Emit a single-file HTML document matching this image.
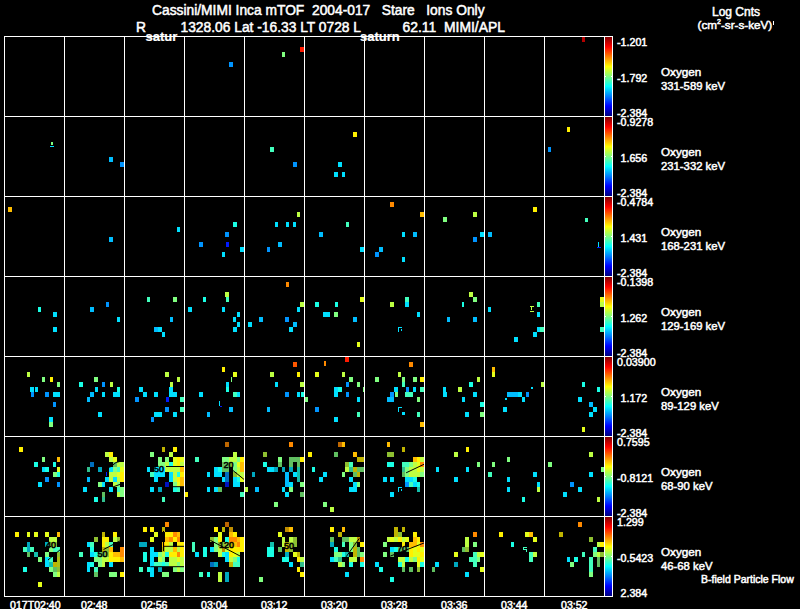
<!DOCTYPE html>
<html><head><meta charset="utf-8"><title>Cassini/MIMI Inca mTOF</title>
<style>
html,body{margin:0;padding:0;background:#000;}
body{width:800px;height:609px;overflow:hidden;}
svg{display:block;}
text{font-family:"Liberation Sans",sans-serif;fill:#fff;stroke:#fff;stroke-width:0.5px;}
</style></head>
<body>
<svg width="800" height="609" viewBox="0 0 800 609" shape-rendering="crispEdges">
<rect width="800" height="609" fill="#000"/>
<defs><linearGradient id="jet" x1="0" y1="0" x2="0" y2="1">
<stop offset="0.0000" stop-color="#800000"/><stop offset="0.0625" stop-color="#bf0000"/><stop offset="0.1250" stop-color="#ff0000"/><stop offset="0.1875" stop-color="#ff4000"/><stop offset="0.2500" stop-color="#ff8000"/><stop offset="0.3125" stop-color="#ffbf00"/><stop offset="0.3750" stop-color="#ffff00"/><stop offset="0.4375" stop-color="#bfff40"/><stop offset="0.5000" stop-color="#80ff80"/><stop offset="0.5625" stop-color="#40ffbf"/><stop offset="0.6250" stop-color="#00ffff"/><stop offset="0.6875" stop-color="#00bfff"/><stop offset="0.7500" stop-color="#0080ff"/><stop offset="0.8125" stop-color="#0040ff"/><stop offset="0.8750" stop-color="#0000ff"/><stop offset="0.9375" stop-color="#0000bf"/><stop offset="1.0000" stop-color="#000080"/>
</linearGradient></defs>
<g id="data">
<rect x="229.20" y="62.00" width="3.75" height="5.00" fill="#0094ff"/>
<rect x="281.70" y="52.00" width="3.75" height="5.00" fill="#80ff80"/><rect x="300.45" y="47.00" width="3.75" height="5.00" fill="#ff1a00"/>
<rect x="581.70" y="37.00" width="3.75" height="5.00" fill="#b30000"/>
<rect x="109.20" y="157.00" width="3.75" height="5.00" fill="#00bdff"/><rect x="120.45" y="162.00" width="3.75" height="5.00" fill="#0094ff"/>
<rect x="270.45" y="147.00" width="3.75" height="5.00" fill="#42ffbd"/><rect x="292.95" y="162.00" width="3.75" height="5.00" fill="#0094ff"/>
<rect x="352.95" y="132.00" width="3.75" height="5.00" fill="#fff000"/><rect x="337.95" y="162.00" width="3.75" height="5.00" fill="#00e0ff"/><rect x="334.20" y="172.00" width="3.75" height="5.00" fill="#00e0ff"/><rect x="341.70" y="172.00" width="3.75" height="5.00" fill="#00e0ff"/>
<rect x="566.70" y="127.00" width="3.75" height="5.00" fill="#fff000"/><rect x="548.25" y="147.40" width="3.05" height="4.10" fill="#0094ff"/>
<rect x="7.95" y="207.00" width="3.75" height="5.00" fill="#ffbd00"/>
<rect x="109.20" y="237.00" width="3.75" height="5.00" fill="#00bdff"/>
<rect x="176.70" y="227.00" width="3.75" height="5.00" fill="#00e0ff"/>
<rect x="232.95" y="222.00" width="3.75" height="5.00" fill="#1affe5"/><rect x="225.45" y="232.00" width="3.75" height="5.00" fill="#0094ff"/><rect x="199.20" y="242.00" width="3.75" height="5.00" fill="#0094ff"/><rect x="225.75" y="242.40" width="3.05" height="4.10" fill="#001aff"/><rect x="240.45" y="247.00" width="3.75" height="5.00" fill="#00e0ff"/><rect x="222.00" y="252.40" width="3.05" height="4.10" fill="#00e0ff"/>
<rect x="296.70" y="212.00" width="3.75" height="5.00" fill="#bdff42"/><rect x="274.50" y="222.40" width="3.05" height="4.10" fill="#00e0ff"/><rect x="285.75" y="222.40" width="3.05" height="4.10" fill="#00e0ff"/><rect x="293.25" y="222.40" width="3.05" height="4.10" fill="#00e0ff"/><rect x="277.95" y="242.00" width="3.75" height="5.00" fill="#00bdff"/><rect x="267.00" y="247.40" width="3.05" height="4.10" fill="#0094ff"/>
<rect x="345.75" y="222.40" width="3.05" height="4.10" fill="#42ffbd"/><rect x="319.20" y="232.00" width="3.75" height="5.00" fill="#00bdff"/><rect x="360.45" y="247.00" width="3.75" height="5.00" fill="#00e0ff"/>
<rect x="390.45" y="202.00" width="3.75" height="5.00" fill="#ff8a00"/><rect x="420.45" y="212.00" width="3.75" height="5.00" fill="#ffbd00"/><rect x="402.00" y="232.40" width="3.05" height="4.10" fill="#00e0ff"/><rect x="412.95" y="232.00" width="3.75" height="5.00" fill="#00bdff"/><rect x="379.20" y="247.00" width="3.75" height="5.00" fill="#00bdff"/><rect x="375.45" y="252.00" width="3.75" height="5.00" fill="#0094ff"/><rect x="401.70" y="257.00" width="3.75" height="5.00" fill="#00e0ff"/>
<rect x="442.95" y="217.00" width="3.75" height="5.00" fill="#80ff80"/><rect x="472.95" y="212.00" width="3.75" height="5.00" fill="#bdff42"/><rect x="480.45" y="232.00" width="3.75" height="5.00" fill="#00e0ff"/><rect x="472.95" y="237.00" width="3.75" height="5.00" fill="#0094ff"/>
<rect x="487.95" y="232.00" width="3.75" height="5.00" fill="#00bdff"/><rect x="532.95" y="207.00" width="3.75" height="5.00" fill="#fff000"/>
<rect x="38.25" y="307.40" width="3.05" height="4.10" fill="#1affe5"/><rect x="52.95" y="312.00" width="3.75" height="5.00" fill="#00e0ff"/><rect x="52.95" y="327.00" width="3.75" height="5.00" fill="#00e0ff"/>
<rect x="90.45" y="307.00" width="3.75" height="5.00" fill="#00bdff"/><rect x="105.75" y="302.40" width="3.05" height="4.10" fill="#0094ff"/><rect x="116.70" y="317.00" width="3.75" height="5.00" fill="#00e0ff"/>
<rect x="146.70" y="297.00" width="3.75" height="5.00" fill="#42ffbd"/><rect x="172.95" y="297.00" width="3.75" height="5.00" fill="#80ff80"/><rect x="169.50" y="317.40" width="3.05" height="4.10" fill="#00bdff"/><rect x="154.20" y="327.00" width="3.75" height="5.00" fill="#00bdff"/><rect x="157.95" y="327.00" width="3.75" height="5.00" fill="#00e0ff"/><rect x="161.70" y="332.00" width="3.75" height="5.00" fill="#00e0ff"/>
<rect x="203.25" y="297.40" width="3.05" height="4.10" fill="#1affe5"/><rect x="225.45" y="292.00" width="3.75" height="5.00" fill="#bdff42"/><rect x="225.75" y="297.40" width="3.05" height="4.10" fill="#42ffbd"/><rect x="187.95" y="307.00" width="3.75" height="5.00" fill="#00e0ff"/><rect x="221.70" y="307.00" width="3.75" height="5.00" fill="#00e0ff"/><rect x="237.00" y="312.40" width="3.05" height="4.10" fill="#00e0ff"/><rect x="233.25" y="317.40" width="3.05" height="4.10" fill="#00e0ff"/><rect x="236.70" y="322.00" width="3.75" height="5.00" fill="#00e0ff"/><rect x="232.95" y="327.00" width="3.75" height="5.00" fill="#00e0ff"/>
<rect x="285.75" y="282.40" width="3.05" height="4.10" fill="#ff8a00"/><rect x="300.45" y="302.00" width="3.75" height="5.00" fill="#bdff42"/><rect x="297.00" y="307.40" width="3.05" height="4.10" fill="#00e0ff"/><rect x="259.20" y="317.00" width="3.75" height="5.00" fill="#00bdff"/><rect x="285.45" y="317.00" width="3.75" height="5.00" fill="#0094ff"/><rect x="247.95" y="322.00" width="3.75" height="5.00" fill="#00e0ff"/><rect x="292.95" y="322.00" width="3.75" height="5.00" fill="#00bdff"/><rect x="289.20" y="327.00" width="3.75" height="5.00" fill="#00e0ff"/>
<rect x="315.45" y="302.00" width="3.75" height="5.00" fill="#1affe5"/><rect x="334.50" y="302.40" width="3.05" height="4.10" fill="#1affe5"/><rect x="360.45" y="297.00" width="3.75" height="5.00" fill="#e5ff1a"/><rect x="322.95" y="312.00" width="3.75" height="5.00" fill="#00e0ff"/><rect x="326.70" y="312.00" width="3.75" height="5.00" fill="#00e0ff"/><rect x="334.20" y="312.00" width="3.75" height="5.00" fill="#80ff80"/><rect x="352.95" y="317.00" width="3.75" height="5.00" fill="#00bdff"/><rect x="356.70" y="342.00" width="3.75" height="5.00" fill="#e5ff1a"/>
<rect x="390.45" y="302.00" width="3.75" height="5.00" fill="#bdff42"/><rect x="405.45" y="297.00" width="3.75" height="5.00" fill="#42ffbd"/><rect x="405.45" y="302.00" width="3.75" height="5.00" fill="#00e0ff"/><rect x="416.70" y="312.00" width="3.75" height="5.00" fill="#00e0ff"/>
<rect x="469.20" y="292.00" width="3.75" height="5.00" fill="#bdff42"/><rect x="472.95" y="297.00" width="3.75" height="5.00" fill="#80ff80"/><rect x="446.70" y="317.00" width="3.75" height="5.00" fill="#00bdff"/><rect x="472.95" y="317.00" width="3.75" height="5.00" fill="#00bdff"/>
<rect x="488.25" y="307.40" width="3.05" height="4.10" fill="#00e0ff"/><rect x="536.70" y="302.00" width="3.75" height="5.00" fill="#42ffbd"/><rect x="536.70" y="312.00" width="3.75" height="5.00" fill="#00e0ff"/><rect x="536.70" y="327.00" width="3.75" height="5.00" fill="#00e0ff"/><rect x="540.45" y="327.00" width="3.75" height="5.00" fill="#42ffbd"/><rect x="532.95" y="332.00" width="3.75" height="5.00" fill="#00e0ff"/><rect x="514.20" y="337.00" width="3.75" height="5.00" fill="#00e0ff"/>
<rect x="600.45" y="297.00" width="3.75" height="5.00" fill="#e5ff1a"/><rect x="600.45" y="302.00" width="3.75" height="5.00" fill="#bdff42"/><rect x="600.45" y="327.00" width="3.75" height="5.00" fill="#42ffbd"/>
<rect x="27.00" y="372.40" width="3.05" height="4.10" fill="#bdff42"/><rect x="42.00" y="377.40" width="3.05" height="4.10" fill="#80ff80"/><rect x="49.50" y="377.40" width="3.05" height="4.10" fill="#fff000"/><rect x="56.70" y="382.00" width="3.75" height="5.00" fill="#80ff80"/><rect x="30.45" y="387.00" width="3.75" height="5.00" fill="#00e0ff"/><rect x="34.50" y="387.40" width="3.05" height="4.10" fill="#00e0ff"/><rect x="30.75" y="392.40" width="3.05" height="4.10" fill="#0094ff"/><rect x="45.45" y="392.00" width="3.75" height="5.00" fill="#0094ff"/><rect x="52.95" y="392.00" width="3.75" height="5.00" fill="#00e0ff"/><rect x="56.70" y="392.00" width="3.75" height="5.00" fill="#00e0ff"/><rect x="53.25" y="402.40" width="3.05" height="4.10" fill="#0094ff"/><rect x="49.20" y="417.00" width="3.75" height="5.00" fill="#00e0ff"/><rect x="49.20" y="422.00" width="3.75" height="5.00" fill="#80ff80"/>
<rect x="94.20" y="377.00" width="3.75" height="5.00" fill="#80ff80"/><rect x="79.20" y="382.00" width="3.75" height="5.00" fill="#1affe5"/><rect x="102.00" y="382.40" width="3.05" height="4.10" fill="#0094ff"/><rect x="109.50" y="382.40" width="3.05" height="4.10" fill="#bdff42"/><rect x="116.70" y="387.00" width="3.75" height="5.00" fill="#1affe5"/><rect x="94.50" y="387.40" width="3.05" height="4.10" fill="#00e0ff"/><rect x="90.45" y="392.00" width="3.75" height="5.00" fill="#00bdff"/><rect x="101.70" y="392.00" width="3.75" height="5.00" fill="#00e0ff"/><rect x="112.95" y="392.00" width="3.75" height="5.00" fill="#00e0ff"/><rect x="116.70" y="392.00" width="3.75" height="5.00" fill="#00e0ff"/><rect x="86.70" y="397.00" width="3.75" height="5.00" fill="#00bdff"/><rect x="97.95" y="412.00" width="3.75" height="5.00" fill="#00e0ff"/>
<rect x="165.45" y="372.00" width="3.75" height="5.00" fill="#bdff42"/><rect x="176.70" y="377.00" width="3.75" height="5.00" fill="#bdff42"/><rect x="169.50" y="382.40" width="3.05" height="4.10" fill="#bdff42"/><rect x="169.20" y="387.00" width="3.75" height="5.00" fill="#00e0ff"/><rect x="139.20" y="387.00" width="3.75" height="5.00" fill="#00e0ff"/><rect x="142.95" y="392.00" width="3.75" height="5.00" fill="#00e0ff"/><rect x="154.20" y="392.00" width="3.75" height="5.00" fill="#00e0ff"/><rect x="169.20" y="392.00" width="3.75" height="5.00" fill="#00e0ff"/><rect x="172.95" y="392.00" width="3.75" height="5.00" fill="#00e0ff"/><rect x="135.45" y="397.00" width="3.75" height="5.00" fill="#0094ff"/><rect x="165.75" y="397.40" width="3.05" height="4.10" fill="#001aff"/><rect x="180.45" y="397.00" width="3.75" height="5.00" fill="#42ffbd"/><rect x="165.45" y="407.00" width="3.75" height="5.00" fill="#0094ff"/><rect x="180.45" y="407.00" width="3.75" height="5.00" fill="#42ffbd"/><rect x="154.20" y="412.00" width="3.75" height="5.00" fill="#00e0ff"/><rect x="157.95" y="412.00" width="3.75" height="5.00" fill="#00e0ff"/><rect x="172.95" y="412.00" width="3.75" height="5.00" fill="#00e0ff"/><rect x="150.75" y="417.40" width="3.05" height="4.10" fill="#0094ff"/>
<rect x="221.70" y="367.00" width="3.75" height="5.00" fill="#fff000"/><rect x="232.95" y="372.00" width="3.75" height="5.00" fill="#e5ff1a"/><rect x="225.75" y="382.40" width="3.05" height="4.10" fill="#00e0ff"/><rect x="225.75" y="387.40" width="3.05" height="4.10" fill="#1affe5"/><rect x="199.20" y="392.00" width="3.75" height="5.00" fill="#00e0ff"/><rect x="232.95" y="392.00" width="3.75" height="5.00" fill="#42ffbd"/><rect x="236.70" y="392.00" width="3.75" height="5.00" fill="#00e0ff"/><rect x="229.20" y="407.00" width="3.75" height="5.00" fill="#00bdff"/><rect x="206.70" y="412.00" width="3.75" height="5.00" fill="#00bdff"/>
<rect x="292.95" y="362.00" width="3.75" height="5.00" fill="#ff5700"/><rect x="270.45" y="372.00" width="3.75" height="5.00" fill="#bdff42"/><rect x="296.70" y="372.00" width="3.75" height="5.00" fill="#fff000"/><rect x="274.50" y="382.40" width="3.05" height="4.10" fill="#00e0ff"/><rect x="300.45" y="382.00" width="3.75" height="5.00" fill="#bdff42"/><rect x="285.45" y="392.00" width="3.75" height="5.00" fill="#0094ff"/><rect x="297.00" y="392.40" width="3.05" height="4.10" fill="#00e0ff"/><rect x="300.75" y="392.40" width="3.05" height="4.10" fill="#1affe5"/><rect x="267.00" y="407.40" width="3.05" height="4.10" fill="#00bdff"/>
<rect x="345.45" y="357.00" width="3.75" height="5.00" fill="#ff1a00"/><rect x="315.45" y="372.00" width="3.75" height="5.00" fill="#e5ff1a"/><rect x="341.70" y="372.00" width="3.75" height="5.00" fill="#bdff42"/><rect x="349.20" y="377.00" width="3.75" height="5.00" fill="#80ff80"/><rect x="345.75" y="382.40" width="3.05" height="4.10" fill="#0094ff"/><rect x="356.70" y="382.00" width="3.75" height="5.00" fill="#80ff80"/><rect x="334.20" y="387.00" width="3.75" height="5.00" fill="#00e0ff"/><rect x="337.95" y="387.00" width="3.75" height="5.00" fill="#1affe5"/><rect x="334.20" y="392.00" width="3.75" height="5.00" fill="#00e0ff"/><rect x="345.75" y="392.40" width="3.05" height="4.10" fill="#0094ff"/><rect x="304.20" y="397.00" width="3.75" height="5.00" fill="#80ff80"/><rect x="356.70" y="397.00" width="3.75" height="5.00" fill="#00e0ff"/><rect x="315.45" y="407.00" width="3.75" height="5.00" fill="#0094ff"/><rect x="357.00" y="412.40" width="3.05" height="4.10" fill="#42ffbd"/><rect x="334.20" y="417.00" width="3.75" height="5.00" fill="#00e0ff"/>
<rect x="409.20" y="362.00" width="3.75" height="5.00" fill="#ff8a00"/><rect x="398.25" y="372.40" width="3.05" height="4.10" fill="#bdff42"/><rect x="375.45" y="377.00" width="3.75" height="5.00" fill="#80ff80"/><rect x="401.70" y="377.00" width="3.75" height="5.00" fill="#80ff80"/><rect x="401.70" y="382.00" width="3.75" height="5.00" fill="#42ffbd"/><rect x="412.95" y="377.00" width="3.75" height="5.00" fill="#80ff80"/><rect x="420.45" y="377.00" width="3.75" height="5.00" fill="#fff000"/><rect x="394.20" y="387.00" width="3.75" height="5.00" fill="#00e0ff"/><rect x="405.75" y="387.40" width="3.05" height="4.10" fill="#0094ff"/><rect x="413.25" y="387.40" width="3.05" height="4.10" fill="#00e0ff"/><rect x="420.45" y="387.00" width="3.75" height="5.00" fill="#42ffbd"/><rect x="390.45" y="392.00" width="3.75" height="5.00" fill="#0094ff"/><rect x="394.50" y="392.40" width="3.05" height="4.10" fill="#80ff80"/><rect x="405.45" y="392.00" width="3.75" height="5.00" fill="#42ffbd"/><rect x="409.20" y="392.00" width="3.75" height="5.00" fill="#42ffbd"/><rect x="386.70" y="397.00" width="3.75" height="5.00" fill="#00bdff"/><rect x="390.45" y="397.00" width="3.75" height="5.00" fill="#00bdff"/><rect x="416.70" y="397.00" width="3.75" height="5.00" fill="#80ff80"/><rect x="416.70" y="412.00" width="3.75" height="5.00" fill="#42ffbd"/><rect x="420.45" y="422.00" width="3.75" height="5.00" fill="#ffbd00"/>
<rect x="476.70" y="377.00" width="3.75" height="5.00" fill="#bdff42"/><rect x="469.20" y="382.00" width="3.75" height="5.00" fill="#1affe5"/><rect x="443.25" y="387.40" width="3.05" height="4.10" fill="#00e0ff"/><rect x="442.95" y="392.00" width="3.75" height="5.00" fill="#00e0ff"/><rect x="457.95" y="387.00" width="3.75" height="5.00" fill="#bdff42"/><rect x="472.95" y="392.00" width="3.75" height="5.00" fill="#00e0ff"/><rect x="461.70" y="397.00" width="3.75" height="5.00" fill="#00e0ff"/><rect x="480.45" y="402.00" width="3.75" height="5.00" fill="#1affe5"/><rect x="465.45" y="412.00" width="3.75" height="5.00" fill="#00e0ff"/><rect x="480.45" y="412.00" width="3.75" height="5.00" fill="#80ff80"/>
<rect x="491.70" y="367.00" width="3.75" height="5.00" fill="#ffbd00"/><rect x="491.70" y="372.00" width="3.75" height="5.00" fill="#e5ff1a"/><rect x="540.75" y="382.40" width="3.05" height="4.10" fill="#bdff42"/><rect x="506.70" y="392.00" width="3.75" height="5.00" fill="#00bdff"/><rect x="510.45" y="392.00" width="3.75" height="5.00" fill="#00bdff"/><rect x="514.20" y="392.00" width="3.75" height="5.00" fill="#00bdff"/><rect x="517.95" y="392.00" width="3.75" height="5.00" fill="#00e0ff"/><rect x="525.75" y="392.40" width="3.05" height="4.10" fill="#0094ff"/><rect x="521.70" y="397.00" width="3.75" height="5.00" fill="#00e0ff"/><rect x="502.95" y="407.00" width="3.75" height="5.00" fill="#00e0ff"/>
<rect x="582.00" y="382.40" width="3.05" height="4.10" fill="#1affe5"/><rect x="596.70" y="387.00" width="3.75" height="5.00" fill="#1affe5"/><rect x="577.95" y="397.00" width="3.75" height="5.00" fill="#00e0ff"/><rect x="589.20" y="402.00" width="3.75" height="5.00" fill="#00bdff"/><rect x="592.95" y="407.00" width="3.75" height="5.00" fill="#00e0ff"/><rect x="589.20" y="412.00" width="3.75" height="5.00" fill="#00e0ff"/><rect x="581.70" y="427.00" width="3.75" height="5.00" fill="#e5ff1a"/>
<rect x="19.20" y="447.00" width="3.75" height="5.00" fill="#fff000"/><rect x="42.00" y="457.40" width="3.05" height="4.10" fill="#80ff80"/><rect x="56.70" y="457.00" width="3.75" height="5.00" fill="#ffbd00"/><rect x="34.20" y="462.00" width="3.75" height="5.00" fill="#1affe5"/><rect x="53.25" y="462.40" width="3.05" height="4.10" fill="#1affe5"/><rect x="41.70" y="467.00" width="3.75" height="5.00" fill="#00e0ff"/><rect x="45.45" y="467.00" width="3.75" height="5.00" fill="#1affe5"/><rect x="56.70" y="467.00" width="3.75" height="5.00" fill="#e5ff1a"/><rect x="52.95" y="472.00" width="3.75" height="5.00" fill="#80ff80"/><rect x="57.00" y="472.40" width="3.05" height="4.10" fill="#1affe5"/><rect x="45.45" y="477.00" width="3.75" height="5.00" fill="#0094ff"/><rect x="37.95" y="482.00" width="3.75" height="5.00" fill="#00e0ff"/><rect x="57.00" y="482.40" width="3.05" height="4.10" fill="#0094ff"/>
<rect x="105.45" y="452.00" width="3.75" height="5.00" fill="#bdff42"/><rect x="109.20" y="452.00" width="3.75" height="5.00" fill="#fff000"/><rect x="109.20" y="457.00" width="3.75" height="5.00" fill="#bdff42"/><rect x="112.95" y="457.00" width="3.75" height="5.00" fill="#e5ff1a"/><rect x="90.45" y="462.00" width="3.75" height="5.00" fill="#0094ff" fill-opacity="0.75"/><rect x="112.95" y="462.00" width="3.75" height="5.00" fill="#80ff80" fill-opacity="0.75"/><rect x="116.70" y="462.00" width="7.50" height="5.00" fill="#bdff42"/><rect x="86.70" y="467.00" width="3.75" height="5.00" fill="#42ffbd" fill-opacity="0.75"/><rect x="97.95" y="467.00" width="3.75" height="5.00" fill="#00e0ff" fill-opacity="0.75"/><rect x="109.20" y="467.00" width="3.75" height="5.00" fill="#00e0ff"/><rect x="112.95" y="467.00" width="3.75" height="5.00" fill="#80ff80"/><rect x="116.70" y="467.00" width="3.75" height="5.00" fill="#42ffbd"/><rect x="120.45" y="467.00" width="3.75" height="5.00" fill="#e5ff1a"/><rect x="109.20" y="472.00" width="7.50" height="5.00" fill="#bdff42"/><rect x="116.70" y="472.00" width="3.75" height="5.00" fill="#e5ff1a"/><rect x="120.45" y="472.00" width="3.75" height="5.00" fill="#fff000"/><rect x="86.70" y="477.00" width="3.75" height="5.00" fill="#00bdff"/><rect x="105.45" y="477.00" width="3.75" height="5.00" fill="#00e0ff"/><rect x="109.20" y="477.00" width="3.75" height="5.00" fill="#bdff42"/><rect x="112.95" y="477.00" width="3.75" height="5.00" fill="#00e0ff"/><rect x="116.70" y="477.00" width="3.75" height="5.00" fill="#bdff42"/><rect x="120.45" y="477.00" width="3.75" height="5.00" fill="#fff000"/><rect x="97.95" y="482.00" width="3.75" height="5.00" fill="#80ff80"/><rect x="101.70" y="482.00" width="3.75" height="5.00" fill="#00e0ff"/><rect x="112.95" y="482.00" width="3.75" height="5.00" fill="#bdff42"/><rect x="116.70" y="482.00" width="3.75" height="5.00" fill="#80ff80"/><rect x="82.95" y="487.00" width="3.75" height="5.00" fill="#00e0ff"/><rect x="109.20" y="487.00" width="3.75" height="5.00" fill="#00e0ff"/><rect x="116.70" y="487.00" width="3.75" height="5.00" fill="#42ffbd"/><rect x="120.45" y="487.00" width="3.75" height="5.00" fill="#80ff80"/><rect x="101.70" y="492.00" width="3.75" height="5.00" fill="#80ff80" fill-opacity="0.75"/><rect x="116.70" y="492.00" width="3.75" height="5.00" fill="#bdff42"/><rect x="120.45" y="492.00" width="3.75" height="5.00" fill="#80ff80"/><rect x="94.20" y="497.00" width="3.75" height="5.00" fill="#1affe5"/><rect x="101.70" y="497.00" width="3.75" height="5.00" fill="#42ffbd" fill-opacity="0.75"/>
<rect x="161.70" y="447.00" width="3.75" height="5.00" fill="#fff000" fill-opacity="0.75"/><rect x="172.95" y="447.00" width="3.75" height="5.00" fill="#fff000"/><rect x="150.45" y="452.00" width="3.75" height="5.00" fill="#80ff80"/><rect x="169.20" y="452.00" width="3.75" height="5.00" fill="#bdff42"/><rect x="157.95" y="457.00" width="3.75" height="5.00" fill="#80ff80"/><rect x="165.45" y="457.00" width="3.75" height="5.00" fill="#80ff80"/><rect x="172.95" y="457.00" width="3.75" height="5.00" fill="#e5ff1a"/><rect x="176.70" y="457.00" width="3.75" height="5.00" fill="#fff000"/><rect x="180.45" y="457.00" width="3.75" height="5.00" fill="#e5ff1a"/><rect x="157.95" y="462.00" width="7.50" height="5.00" fill="#80ff80"/><rect x="165.45" y="462.00" width="3.75" height="5.00" fill="#bdff42"/><rect x="169.20" y="462.00" width="3.75" height="5.00" fill="#1affe5"/><rect x="172.95" y="462.00" width="3.75" height="5.00" fill="#e5ff1a"/><rect x="176.70" y="462.00" width="3.75" height="5.00" fill="#fff000"/><rect x="180.45" y="462.00" width="3.75" height="5.00" fill="#bdff42"/><rect x="146.70" y="467.00" width="3.75" height="5.00" fill="#00e0ff"/><rect x="154.20" y="467.00" width="11.25" height="5.00" fill="#00e0ff"/><rect x="165.45" y="467.00" width="15.00" height="5.00" fill="#bdff42"/><rect x="180.45" y="467.00" width="3.75" height="5.00" fill="#ffbd00"/><rect x="150.45" y="472.00" width="3.75" height="5.00" fill="#42ffbd"/><rect x="154.20" y="472.00" width="11.25" height="5.00" fill="#00e0ff"/><rect x="169.20" y="472.00" width="3.75" height="5.00" fill="#00e0ff"/><rect x="172.95" y="472.00" width="3.75" height="5.00" fill="#bdff42"/><rect x="176.70" y="472.00" width="3.75" height="5.00" fill="#1affe5"/><rect x="180.45" y="472.00" width="3.75" height="5.00" fill="#fff000"/><rect x="154.20" y="477.00" width="3.75" height="5.00" fill="#00e0ff"/><rect x="169.20" y="477.00" width="3.75" height="5.00" fill="#00e0ff"/><rect x="172.95" y="477.00" width="3.75" height="5.00" fill="#bdff42"/><rect x="176.70" y="477.00" width="3.75" height="5.00" fill="#fff000"/><rect x="180.45" y="477.00" width="3.75" height="5.00" fill="#ffbd00"/><rect x="165.45" y="482.00" width="3.75" height="5.00" fill="#001aff" fill-opacity="0.75"/><rect x="172.95" y="482.00" width="3.75" height="5.00" fill="#80ff80"/><rect x="176.70" y="482.00" width="3.75" height="5.00" fill="#e5ff1a"/><rect x="180.45" y="482.00" width="3.75" height="5.00" fill="#ffbd00"/><rect x="150.45" y="487.00" width="3.75" height="5.00" fill="#00e0ff"/><rect x="157.95" y="487.00" width="3.75" height="5.00" fill="#00e0ff" fill-opacity="0.75"/><rect x="172.95" y="487.00" width="3.75" height="5.00" fill="#1affe5"/><rect x="176.70" y="487.00" width="3.75" height="5.00" fill="#42ffbd"/><rect x="161.70" y="497.00" width="3.75" height="5.00" fill="#42ffbd"/>
<rect x="225.45" y="442.00" width="3.75" height="5.00" fill="#ff8a00" fill-opacity="0.75"/><rect x="232.95" y="452.00" width="3.75" height="5.00" fill="#bdff42"/><rect x="195.45" y="457.00" width="3.75" height="5.00" fill="#42ffbd"/><rect x="221.70" y="457.00" width="7.50" height="5.00" fill="#80ff80"/><rect x="229.20" y="457.00" width="7.50" height="5.00" fill="#bdff42"/><rect x="236.70" y="457.00" width="3.75" height="5.00" fill="#80ff80"/><rect x="240.45" y="457.00" width="3.75" height="5.00" fill="#fff000"/><rect x="221.70" y="462.00" width="3.75" height="5.00" fill="#80ff80" fill-opacity="0.75"/><rect x="225.45" y="462.00" width="3.75" height="5.00" fill="#80ff80" fill-opacity="0.75"/><rect x="229.20" y="462.00" width="3.75" height="5.00" fill="#bdff42" fill-opacity="0.75"/><rect x="232.95" y="462.00" width="3.75" height="5.00" fill="#80ff80"/><rect x="236.70" y="462.00" width="3.75" height="5.00" fill="#e5ff1a"/><rect x="240.45" y="462.00" width="3.75" height="5.00" fill="#ffbd00"/><rect x="214.20" y="467.00" width="3.75" height="5.00" fill="#00e0ff"/><rect x="217.95" y="467.00" width="3.75" height="5.00" fill="#1affe5"/><rect x="221.70" y="467.00" width="3.75" height="5.00" fill="#80ff80" fill-opacity="0.75"/><rect x="225.45" y="467.00" width="3.75" height="5.00" fill="#80ff80" fill-opacity="0.75"/><rect x="232.95" y="467.00" width="3.75" height="5.00" fill="#80ff80"/><rect x="236.70" y="467.00" width="3.75" height="5.00" fill="#bdff42"/><rect x="240.45" y="467.00" width="3.75" height="5.00" fill="#ffbd00"/><rect x="206.70" y="472.00" width="3.75" height="5.00" fill="#00e0ff"/><rect x="214.20" y="472.00" width="7.50" height="5.00" fill="#00e0ff"/><rect x="225.45" y="472.00" width="3.75" height="5.00" fill="#0094ff" fill-opacity="0.75"/><rect x="232.95" y="472.00" width="3.75" height="5.00" fill="#bdff42" fill-opacity="0.75"/><rect x="236.70" y="472.00" width="7.50" height="5.00" fill="#bdff42"/><rect x="221.70" y="477.00" width="3.75" height="5.00" fill="#00e0ff"/><rect x="225.45" y="477.00" width="3.75" height="5.00" fill="#0094ff" fill-opacity="0.75"/><rect x="232.95" y="477.00" width="3.75" height="5.00" fill="#00e0ff"/><rect x="236.70" y="477.00" width="3.75" height="5.00" fill="#1affe5"/><rect x="240.45" y="477.00" width="3.75" height="5.00" fill="#e5ff1a"/><rect x="225.45" y="482.00" width="3.75" height="5.00" fill="#001aff" fill-opacity="0.75"/><rect x="232.95" y="482.00" width="7.50" height="5.00" fill="#00e0ff"/><rect x="206.70" y="487.00" width="3.75" height="5.00" fill="#00e0ff"/><rect x="214.20" y="487.00" width="3.75" height="5.00" fill="#00e0ff"/><rect x="217.95" y="487.00" width="3.75" height="5.00" fill="#80ff80" fill-opacity="0.75"/><rect x="184.20" y="492.00" width="3.75" height="5.00" fill="#fff000"/><rect x="240.45" y="492.00" width="3.75" height="5.00" fill="#42ffbd"/>
<rect x="289.20" y="442.00" width="3.75" height="5.00" fill="#ff8a00"/><rect x="262.95" y="452.00" width="3.75" height="5.00" fill="#bdff42" fill-opacity="0.75"/><rect x="277.95" y="457.00" width="3.75" height="5.00" fill="#80ff80"/><rect x="289.20" y="457.00" width="3.75" height="5.00" fill="#80ff80" fill-opacity="0.75"/><rect x="292.95" y="457.00" width="3.75" height="5.00" fill="#80ff80" fill-opacity="0.75"/><rect x="296.70" y="457.00" width="3.75" height="5.00" fill="#80ff80" fill-opacity="0.75"/><rect x="300.45" y="457.00" width="3.75" height="5.00" fill="#fff000"/><rect x="262.95" y="462.00" width="3.75" height="5.00" fill="#1affe5"/><rect x="277.95" y="462.00" width="3.75" height="5.00" fill="#80ff80" fill-opacity="0.75"/><rect x="289.20" y="462.00" width="3.75" height="5.00" fill="#80ff80" fill-opacity="0.75"/><rect x="296.70" y="462.00" width="3.75" height="5.00" fill="#80ff80" fill-opacity="0.75"/><rect x="266.70" y="467.00" width="7.50" height="5.00" fill="#00e0ff"/><rect x="274.20" y="467.00" width="3.75" height="5.00" fill="#00e0ff" fill-opacity="0.75"/><rect x="281.70" y="467.00" width="3.75" height="5.00" fill="#00e0ff" fill-opacity="0.75"/><rect x="289.20" y="467.00" width="3.75" height="5.00" fill="#00e0ff" fill-opacity="0.75"/><rect x="296.70" y="467.00" width="3.75" height="5.00" fill="#1affe5" fill-opacity="0.75"/><rect x="251.70" y="472.00" width="3.75" height="5.00" fill="#00e0ff" fill-opacity="0.75"/><rect x="285.45" y="472.00" width="3.75" height="5.00" fill="#00bdff"/><rect x="292.95" y="472.00" width="3.75" height="5.00" fill="#00e0ff"/><rect x="296.70" y="472.00" width="3.75" height="5.00" fill="#1affe5" fill-opacity="0.75"/><rect x="285.45" y="477.00" width="3.75" height="5.00" fill="#00bdff"/><rect x="296.70" y="477.00" width="3.75" height="5.00" fill="#1affe5" fill-opacity="0.75"/><rect x="285.45" y="482.00" width="3.75" height="5.00" fill="#00bdff"/><rect x="289.20" y="482.00" width="3.75" height="5.00" fill="#00e0ff"/><rect x="300.45" y="482.00" width="3.75" height="5.00" fill="#80ff80"/><rect x="244.20" y="487.00" width="3.75" height="5.00" fill="#bdff42"/><rect x="255.45" y="487.00" width="3.75" height="5.00" fill="#00bdff"/><rect x="281.70" y="487.00" width="3.75" height="5.00" fill="#00e0ff"/><rect x="289.20" y="487.00" width="3.75" height="5.00" fill="#80ff80"/><rect x="285.45" y="492.00" width="3.75" height="5.00" fill="#00e0ff"/><rect x="300.45" y="492.00" width="3.75" height="5.00" fill="#80ff80" fill-opacity="0.75"/><rect x="274.20" y="502.00" width="3.75" height="5.00" fill="#80ff80"/>
<rect x="337.95" y="442.00" width="3.75" height="5.00" fill="#ff8a00" fill-opacity="0.75"/><rect x="341.70" y="442.00" width="3.75" height="5.00" fill="#ffbd00"/><rect x="307.95" y="452.00" width="3.75" height="5.00" fill="#fff000"/><rect x="334.20" y="452.00" width="3.75" height="5.00" fill="#80ff80" fill-opacity="0.75"/><rect x="352.95" y="452.00" width="3.75" height="5.00" fill="#ffbd00"/><rect x="356.70" y="457.00" width="3.75" height="5.00" fill="#fff000" fill-opacity="0.75"/><rect x="360.45" y="457.00" width="3.75" height="5.00" fill="#fff000" fill-opacity="0.75"/><rect x="345.45" y="462.00" width="3.75" height="5.00" fill="#bdff42" fill-opacity="0.75"/><rect x="349.20" y="462.00" width="3.75" height="5.00" fill="#42ffbd"/><rect x="311.70" y="467.00" width="3.75" height="5.00" fill="#1affe5"/><rect x="345.45" y="467.00" width="3.75" height="5.00" fill="#bdff42"/><rect x="349.20" y="467.00" width="3.75" height="5.00" fill="#42ffbd" fill-opacity="0.75"/><rect x="352.95" y="467.00" width="3.75" height="5.00" fill="#fff000" fill-opacity="0.75"/><rect x="356.70" y="467.00" width="3.75" height="5.00" fill="#80ff80" fill-opacity="0.75"/><rect x="360.45" y="467.00" width="3.75" height="5.00" fill="#80ff80" fill-opacity="0.75"/><rect x="322.95" y="472.00" width="3.75" height="5.00" fill="#00e0ff"/><rect x="341.70" y="472.00" width="3.75" height="5.00" fill="#80ff80"/><rect x="352.95" y="472.00" width="3.75" height="5.00" fill="#80ff80" fill-opacity="0.75"/><rect x="356.70" y="472.00" width="3.75" height="5.00" fill="#fff000" fill-opacity="0.75"/><rect x="319.20" y="477.00" width="3.75" height="5.00" fill="#00e0ff"/><rect x="349.20" y="477.00" width="3.75" height="5.00" fill="#00e0ff"/><rect x="352.95" y="482.00" width="3.75" height="5.00" fill="#00e0ff"/><rect x="356.70" y="482.00" width="3.75" height="5.00" fill="#80ff80"/><rect x="349.20" y="487.00" width="7.50" height="5.00" fill="#00e0ff"/><rect x="322.95" y="502.00" width="3.75" height="5.00" fill="#80ff80"/><rect x="330.45" y="507.00" width="3.75" height="5.00" fill="#bdff42"/>
<rect x="386.70" y="442.00" width="3.75" height="5.00" fill="#ffbd00"/><rect x="401.70" y="447.00" width="3.75" height="5.00" fill="#fff000" fill-opacity="0.75"/><rect x="386.70" y="452.00" width="3.75" height="5.00" fill="#bdff42" fill-opacity="0.75"/><rect x="390.45" y="452.00" width="3.75" height="5.00" fill="#bdff42" fill-opacity="0.75"/><rect x="412.95" y="457.00" width="3.75" height="5.00" fill="#ffbd00"/><rect x="416.70" y="457.00" width="3.75" height="5.00" fill="#fff000"/><rect x="420.45" y="457.00" width="3.75" height="5.00" fill="#bdff42"/><rect x="386.70" y="462.00" width="7.50" height="5.00" fill="#1affe5"/><rect x="401.70" y="462.00" width="7.50" height="5.00" fill="#42ffbd"/><rect x="409.20" y="462.00" width="3.75" height="5.00" fill="#80ff80"/><rect x="412.95" y="462.00" width="3.75" height="5.00" fill="#bdff42"/><rect x="416.70" y="462.00" width="3.75" height="5.00" fill="#e5ff1a"/><rect x="420.45" y="462.00" width="3.75" height="5.00" fill="#ff8a00"/><rect x="401.70" y="467.00" width="3.75" height="5.00" fill="#42ffbd" fill-opacity="0.75"/><rect x="405.45" y="467.00" width="3.75" height="5.00" fill="#80ff80"/><rect x="409.20" y="467.00" width="7.50" height="5.00" fill="#bdff42"/><rect x="416.70" y="467.00" width="3.75" height="5.00" fill="#e5ff1a"/><rect x="420.45" y="467.00" width="3.75" height="5.00" fill="#bdff42"/><rect x="401.70" y="472.00" width="3.75" height="5.00" fill="#80ff80" fill-opacity="0.75"/><rect x="405.45" y="472.00" width="3.75" height="5.00" fill="#80ff80"/><rect x="409.20" y="472.00" width="11.25" height="5.00" fill="#bdff42"/><rect x="420.45" y="472.00" width="3.75" height="5.00" fill="#80ff80"/><rect x="382.95" y="477.00" width="3.75" height="5.00" fill="#00e0ff"/><rect x="390.45" y="477.00" width="3.75" height="5.00" fill="#00e0ff"/><rect x="405.45" y="477.00" width="7.50" height="5.00" fill="#00e0ff"/><rect x="412.95" y="477.00" width="3.75" height="5.00" fill="#1affe5"/><rect x="405.45" y="482.00" width="3.75" height="5.00" fill="#0094ff"/><rect x="409.20" y="482.00" width="3.75" height="5.00" fill="#42ffbd"/><rect x="412.95" y="482.00" width="3.75" height="5.00" fill="#00e0ff"/><rect x="416.70" y="482.00" width="3.75" height="5.00" fill="#1affe5"/><rect x="416.70" y="487.00" width="3.75" height="5.00" fill="#1affe5" fill-opacity="0.75"/><rect x="390.45" y="492.00" width="3.75" height="5.00" fill="#00e0ff"/>
<rect x="465.75" y="447.40" width="3.05" height="4.10" fill="#fff000"/><rect x="454.20" y="452.00" width="3.75" height="5.00" fill="#bdff42"/><rect x="476.70" y="462.00" width="3.75" height="5.00" fill="#80ff80"/><rect x="435.75" y="467.40" width="3.05" height="4.10" fill="#00e0ff"/><rect x="465.75" y="467.40" width="3.05" height="4.10" fill="#00e0ff"/><rect x="454.20" y="477.00" width="3.75" height="5.00" fill="#00e0ff"/>
<rect x="506.70" y="457.00" width="3.75" height="5.00" fill="#80ff80"/><rect x="492.00" y="462.40" width="3.05" height="4.10" fill="#80ff80"/><rect x="487.95" y="472.00" width="3.75" height="5.00" fill="#42ffbd"/><rect x="532.95" y="472.00" width="3.75" height="5.00" fill="#00e0ff"/><rect x="507.00" y="477.40" width="3.05" height="4.10" fill="#00e0ff"/><rect x="536.70" y="482.00" width="3.75" height="5.00" fill="#00e0ff"/><rect x="506.70" y="487.00" width="3.75" height="5.00" fill="#00e0ff"/><rect x="536.70" y="487.00" width="3.75" height="5.00" fill="#bdff42"/><rect x="522.00" y="497.40" width="3.05" height="4.10" fill="#1affe5"/>
<rect x="589.20" y="452.00" width="3.75" height="5.00" fill="#bdff42"/><rect x="547.95" y="462.00" width="3.75" height="5.00" fill="#80ff80"/><rect x="600.75" y="467.40" width="3.05" height="4.10" fill="#80ff80"/><rect x="589.20" y="472.00" width="3.75" height="5.00" fill="#00e0ff"/><rect x="570.45" y="482.00" width="3.75" height="5.00" fill="#0094ff"/><rect x="577.95" y="487.00" width="3.75" height="5.00" fill="#00e0ff"/><rect x="562.95" y="492.00" width="3.75" height="5.00" fill="#00e0ff"/><rect x="596.70" y="497.00" width="3.75" height="5.00" fill="#bdff42"/>
<rect x="15.45" y="532.00" width="3.75" height="5.00" fill="#fff000"/><rect x="26.70" y="532.00" width="3.75" height="5.00" fill="#e5ff1a"/><rect x="34.20" y="532.00" width="3.75" height="5.00" fill="#e5ff1a"/><rect x="45.45" y="532.00" width="3.75" height="5.00" fill="#e5ff1a"/><rect x="56.70" y="532.00" width="3.75" height="5.00" fill="#ffbd00"/><rect x="49.20" y="537.00" width="7.50" height="5.00" fill="#bdff42"/><rect x="26.70" y="542.00" width="3.75" height="5.00" fill="#00e0ff" fill-opacity="0.75"/><rect x="45.45" y="542.00" width="3.75" height="5.00" fill="#00e0ff" fill-opacity="0.75"/><rect x="49.20" y="542.00" width="3.75" height="5.00" fill="#bdff42" fill-opacity="0.75"/><rect x="52.95" y="542.00" width="3.75" height="5.00" fill="#bdff42" fill-opacity="0.75"/><rect x="22.95" y="547.00" width="3.75" height="5.00" fill="#42ffbd"/><rect x="26.70" y="547.00" width="3.75" height="5.00" fill="#00e0ff" fill-opacity="0.75"/><rect x="30.45" y="547.00" width="3.75" height="5.00" fill="#42ffbd"/><rect x="49.20" y="547.00" width="3.75" height="5.00" fill="#80ff80"/><rect x="52.95" y="547.00" width="7.50" height="5.00" fill="#42ffbd"/><rect x="26.70" y="552.00" width="3.75" height="5.00" fill="#80ff80" fill-opacity="0.75"/><rect x="34.20" y="552.00" width="3.75" height="5.00" fill="#1affe5" fill-opacity="0.75"/><rect x="45.45" y="552.00" width="3.75" height="5.00" fill="#80ff80"/><rect x="56.70" y="552.00" width="3.75" height="5.00" fill="#bdff42" fill-opacity="0.75"/><rect x="37.95" y="557.00" width="3.75" height="5.00" fill="#80ff80"/><rect x="45.45" y="557.00" width="3.75" height="5.00" fill="#00e0ff"/><rect x="49.20" y="557.00" width="3.75" height="5.00" fill="#42ffbd"/><rect x="56.70" y="557.00" width="3.75" height="5.00" fill="#e5ff1a" fill-opacity="0.75"/><rect x="45.45" y="562.00" width="3.75" height="5.00" fill="#00e0ff"/><rect x="49.20" y="562.00" width="3.75" height="5.00" fill="#1affe5" fill-opacity="0.75"/><rect x="52.95" y="562.00" width="3.75" height="5.00" fill="#fff000" fill-opacity="0.75"/><rect x="56.70" y="562.00" width="3.75" height="5.00" fill="#e5ff1a" fill-opacity="0.75"/><rect x="22.95" y="567.00" width="3.75" height="5.00" fill="#1affe5"/><rect x="49.20" y="567.00" width="3.75" height="5.00" fill="#80ff80"/><rect x="52.95" y="567.00" width="3.75" height="5.00" fill="#80ff80" fill-opacity="0.75"/><rect x="56.70" y="567.00" width="3.75" height="5.00" fill="#bdff42" fill-opacity="0.75"/><rect x="52.95" y="572.00" width="3.75" height="5.00" fill="#80ff80"/><rect x="56.70" y="572.00" width="3.75" height="5.00" fill="#bdff42"/><rect x="37.95" y="582.00" width="3.75" height="5.00" fill="#e5ff1a"/>
<rect x="101.70" y="532.00" width="3.75" height="5.00" fill="#fff000" fill-opacity="0.75"/><rect x="112.95" y="532.00" width="3.75" height="5.00" fill="#fff000"/><rect x="94.20" y="537.00" width="3.75" height="5.00" fill="#bdff42" fill-opacity="0.75"/><rect x="101.70" y="537.00" width="7.50" height="5.00" fill="#fff000"/><rect x="112.95" y="537.00" width="3.75" height="5.00" fill="#bdff42"/><rect x="116.70" y="537.00" width="3.75" height="5.00" fill="#bdff42" fill-opacity="0.75"/><rect x="86.70" y="542.00" width="3.75" height="5.00" fill="#00e0ff"/><rect x="90.45" y="542.00" width="3.75" height="5.00" fill="#42ffbd"/><rect x="101.70" y="542.00" width="3.75" height="5.00" fill="#fff000"/><rect x="105.45" y="542.00" width="3.75" height="5.00" fill="#bdff42"/><rect x="109.20" y="542.00" width="3.75" height="5.00" fill="#42ffbd"/><rect x="90.45" y="547.00" width="3.75" height="5.00" fill="#1affe5"/><rect x="101.70" y="547.00" width="3.75" height="5.00" fill="#fff000" fill-opacity="0.75"/><rect x="105.45" y="547.00" width="3.75" height="5.00" fill="#bdff42" fill-opacity="0.75"/><rect x="109.20" y="547.00" width="3.75" height="5.00" fill="#ffbd00"/><rect x="120.45" y="547.00" width="3.75" height="5.00" fill="#ff8a00"/><rect x="79.20" y="552.00" width="3.75" height="5.00" fill="#42ffbd"/><rect x="90.45" y="552.00" width="3.75" height="5.00" fill="#00e0ff"/><rect x="94.20" y="552.00" width="3.75" height="5.00" fill="#1affe5"/><rect x="97.95" y="552.00" width="3.75" height="5.00" fill="#80ff80" fill-opacity="0.75"/><rect x="101.70" y="552.00" width="3.75" height="5.00" fill="#80ff80" fill-opacity="0.75"/><rect x="105.45" y="552.00" width="3.75" height="5.00" fill="#bdff42" fill-opacity="0.75"/><rect x="109.20" y="552.00" width="3.75" height="5.00" fill="#fff000"/><rect x="112.95" y="552.00" width="7.50" height="5.00" fill="#ffbd00"/><rect x="120.45" y="552.00" width="3.75" height="5.00" fill="#ff8a00"/><rect x="94.20" y="557.00" width="7.50" height="5.00" fill="#80ff80"/><rect x="101.70" y="557.00" width="7.50" height="5.00" fill="#bdff42"/><rect x="109.20" y="557.00" width="11.25" height="5.00" fill="#fff000"/><rect x="120.45" y="557.00" width="3.75" height="5.00" fill="#ffbd00"/><rect x="86.70" y="562.00" width="3.75" height="5.00" fill="#00e0ff"/><rect x="90.45" y="562.00" width="3.75" height="5.00" fill="#1affe5"/><rect x="97.95" y="562.00" width="3.75" height="5.00" fill="#80ff80"/><rect x="101.70" y="562.00" width="3.75" height="5.00" fill="#bdff42"/><rect x="109.20" y="562.00" width="3.75" height="5.00" fill="#00e0ff"/><rect x="86.70" y="567.00" width="3.75" height="5.00" fill="#00e0ff"/><rect x="94.20" y="567.00" width="3.75" height="5.00" fill="#42ffbd"/><rect x="94.20" y="572.00" width="3.75" height="5.00" fill="#80ff80" fill-opacity="0.75"/><rect x="109.20" y="572.00" width="7.50" height="5.00" fill="#80ff80"/><rect x="120.45" y="572.00" width="3.75" height="5.00" fill="#fff000"/>
<rect x="165.45" y="522.00" width="3.75" height="5.00" fill="#ff8a00"/><rect x="142.95" y="527.00" width="3.75" height="5.00" fill="#fff000"/><rect x="150.45" y="527.00" width="3.75" height="5.00" fill="#fff000"/><rect x="161.70" y="527.00" width="3.75" height="5.00" fill="#fff000" fill-opacity="0.75"/><rect x="154.20" y="532.00" width="3.75" height="5.00" fill="#e5ff1a"/><rect x="165.45" y="532.00" width="7.50" height="5.00" fill="#fff000"/><rect x="172.95" y="532.00" width="3.75" height="5.00" fill="#ff8a00"/><rect x="176.70" y="532.00" width="3.75" height="5.00" fill="#ffbd00"/><rect x="150.45" y="537.00" width="3.75" height="5.00" fill="#e5ff1a"/><rect x="165.45" y="537.00" width="3.75" height="5.00" fill="#ffbd00"/><rect x="169.20" y="537.00" width="3.75" height="5.00" fill="#ff8a00"/><rect x="172.95" y="537.00" width="3.75" height="5.00" fill="#fff000"/><rect x="176.70" y="537.00" width="3.75" height="5.00" fill="#ff8a00"/><rect x="139.20" y="542.00" width="3.75" height="5.00" fill="#00e0ff" fill-opacity="0.75"/><rect x="142.95" y="542.00" width="3.75" height="5.00" fill="#00e0ff" fill-opacity="0.75"/><rect x="161.70" y="542.00" width="3.75" height="5.00" fill="#ffbd00"/><rect x="165.45" y="542.00" width="3.75" height="5.00" fill="#fff000"/><rect x="169.20" y="542.00" width="3.75" height="5.00" fill="#bdff42"/><rect x="176.70" y="542.00" width="7.50" height="5.00" fill="#fff000"/><rect x="150.45" y="547.00" width="3.75" height="5.00" fill="#00e0ff"/><rect x="161.70" y="547.00" width="3.75" height="5.00" fill="#fff000" fill-opacity="0.75"/><rect x="165.45" y="547.00" width="7.50" height="5.00" fill="#bdff42"/><rect x="172.95" y="547.00" width="3.75" height="5.00" fill="#ffbd00"/><rect x="176.70" y="547.00" width="3.75" height="5.00" fill="#bdff42"/><rect x="180.45" y="547.00" width="3.75" height="5.00" fill="#fff000"/><rect x="142.95" y="552.00" width="3.75" height="5.00" fill="#1affe5"/><rect x="150.45" y="552.00" width="7.50" height="5.00" fill="#00e0ff"/><rect x="157.95" y="552.00" width="3.75" height="5.00" fill="#80ff80"/><rect x="161.70" y="552.00" width="3.75" height="5.00" fill="#bdff42"/><rect x="165.45" y="552.00" width="3.75" height="5.00" fill="#1affe5"/><rect x="169.20" y="552.00" width="7.50" height="5.00" fill="#fff000"/><rect x="176.70" y="552.00" width="3.75" height="5.00" fill="#ff8a00"/><rect x="180.45" y="552.00" width="3.75" height="5.00" fill="#fff000"/><rect x="142.95" y="557.00" width="3.75" height="5.00" fill="#1affe5"/><rect x="150.45" y="557.00" width="3.75" height="5.00" fill="#00e0ff"/><rect x="157.95" y="557.00" width="3.75" height="5.00" fill="#bdff42"/><rect x="161.70" y="557.00" width="3.75" height="5.00" fill="#80ff80"/><rect x="169.20" y="557.00" width="7.50" height="5.00" fill="#bdff42"/><rect x="176.70" y="557.00" width="3.75" height="5.00" fill="#e5ff1a"/><rect x="180.45" y="557.00" width="3.75" height="5.00" fill="#bdff42"/><rect x="150.45" y="562.00" width="3.75" height="5.00" fill="#00e0ff"/><rect x="154.20" y="562.00" width="7.50" height="5.00" fill="#42ffbd"/><rect x="161.70" y="562.00" width="3.75" height="5.00" fill="#1affe5"/><rect x="165.45" y="562.00" width="3.75" height="5.00" fill="#42ffbd"/><rect x="169.20" y="562.00" width="7.50" height="5.00" fill="#bdff42"/><rect x="176.70" y="562.00" width="3.75" height="5.00" fill="#80ff80"/><rect x="180.45" y="562.00" width="3.75" height="5.00" fill="#bdff42"/><rect x="139.20" y="567.00" width="3.75" height="5.00" fill="#42ffbd"/><rect x="146.70" y="567.00" width="3.75" height="5.00" fill="#1affe5"/><rect x="150.45" y="567.00" width="3.75" height="5.00" fill="#00e0ff"/><rect x="157.95" y="567.00" width="3.75" height="5.00" fill="#00e0ff" fill-opacity="0.75"/><rect x="172.95" y="567.00" width="3.75" height="5.00" fill="#80ff80"/><rect x="176.70" y="567.00" width="3.75" height="5.00" fill="#bdff42"/><rect x="180.45" y="567.00" width="3.75" height="5.00" fill="#80ff80"/><rect x="150.45" y="572.00" width="3.75" height="5.00" fill="#00e0ff"/><rect x="161.70" y="572.00" width="7.50" height="5.00" fill="#80ff80"/>
<rect x="225.45" y="522.00" width="3.75" height="5.00" fill="#ff8a00" fill-opacity="0.75"/><rect x="214.20" y="527.00" width="3.75" height="5.00" fill="#fff000"/><rect x="221.70" y="527.00" width="3.75" height="5.00" fill="#fff000" fill-opacity="0.75"/><rect x="229.20" y="527.00" width="3.75" height="5.00" fill="#ffbd00" fill-opacity="0.75"/><rect x="217.95" y="532.00" width="3.75" height="5.00" fill="#e5ff1a"/><rect x="229.20" y="532.00" width="3.75" height="5.00" fill="#ffbd00"/><rect x="232.95" y="532.00" width="3.75" height="5.00" fill="#fff000"/><rect x="210.45" y="537.00" width="3.75" height="5.00" fill="#bdff42" fill-opacity="0.75"/><rect x="214.20" y="537.00" width="3.75" height="5.00" fill="#80ff80"/><rect x="217.95" y="537.00" width="3.75" height="5.00" fill="#fff000"/><rect x="225.45" y="537.00" width="3.75" height="5.00" fill="#1affe5"/><rect x="229.20" y="537.00" width="7.50" height="5.00" fill="#ff8a00"/><rect x="236.70" y="537.00" width="3.75" height="5.00" fill="#ffbd00"/><rect x="240.45" y="537.00" width="3.75" height="5.00" fill="#fff000"/><rect x="191.70" y="542.00" width="3.75" height="5.00" fill="#42ffbd"/><rect x="214.20" y="542.00" width="3.75" height="5.00" fill="#80ff80"/><rect x="217.95" y="542.00" width="3.75" height="5.00" fill="#bdff42" fill-opacity="0.75"/><rect x="221.70" y="542.00" width="3.75" height="5.00" fill="#bdff42" fill-opacity="0.75"/><rect x="225.45" y="542.00" width="3.75" height="5.00" fill="#bdff42" fill-opacity="0.75"/><rect x="229.20" y="542.00" width="3.75" height="5.00" fill="#fff000" fill-opacity="0.75"/><rect x="232.95" y="542.00" width="3.75" height="5.00" fill="#ffbd00"/><rect x="236.70" y="542.00" width="3.75" height="5.00" fill="#ff8a00"/><rect x="240.45" y="542.00" width="3.75" height="5.00" fill="#fff000"/><rect x="191.70" y="547.00" width="3.75" height="5.00" fill="#42ffbd"/><rect x="202.95" y="547.00" width="3.75" height="5.00" fill="#1affe5"/><rect x="210.45" y="547.00" width="3.75" height="5.00" fill="#00e0ff"/><rect x="214.20" y="547.00" width="3.75" height="5.00" fill="#80ff80"/><rect x="217.95" y="547.00" width="3.75" height="5.00" fill="#bdff42"/><rect x="221.70" y="547.00" width="3.75" height="5.00" fill="#ffbd00" fill-opacity="0.75"/><rect x="225.45" y="547.00" width="3.75" height="5.00" fill="#bdff42"/><rect x="229.20" y="547.00" width="15.00" height="5.00" fill="#fff000"/><rect x="195.45" y="552.00" width="3.75" height="5.00" fill="#00e0ff"/><rect x="202.95" y="552.00" width="3.75" height="5.00" fill="#1affe5"/><rect x="217.95" y="552.00" width="3.75" height="5.00" fill="#bdff42"/><rect x="221.70" y="552.00" width="3.75" height="5.00" fill="#1affe5"/><rect x="225.45" y="552.00" width="3.75" height="5.00" fill="#00e0ff"/><rect x="229.20" y="552.00" width="3.75" height="5.00" fill="#fff000"/><rect x="232.95" y="552.00" width="3.75" height="5.00" fill="#e5ff1a"/><rect x="236.70" y="552.00" width="3.75" height="5.00" fill="#bdff42"/><rect x="225.45" y="557.00" width="3.75" height="5.00" fill="#00e0ff"/><rect x="229.20" y="557.00" width="3.75" height="5.00" fill="#bdff42"/><rect x="232.95" y="557.00" width="3.75" height="5.00" fill="#80ff80"/><rect x="236.70" y="557.00" width="3.75" height="5.00" fill="#1affe5"/><rect x="210.45" y="562.00" width="3.75" height="5.00" fill="#0094ff" fill-opacity="0.75"/><rect x="214.20" y="562.00" width="3.75" height="5.00" fill="#00e0ff" fill-opacity="0.75"/><rect x="229.20" y="562.00" width="3.75" height="5.00" fill="#fff000" fill-opacity="0.75"/><rect x="232.95" y="562.00" width="7.50" height="5.00" fill="#42ffbd"/><rect x="199.20" y="572.00" width="3.75" height="5.00" fill="#42ffbd"/><rect x="206.70" y="572.00" width="3.75" height="5.00" fill="#1affe5"/><rect x="217.95" y="572.00" width="3.75" height="5.00" fill="#bdff42"/><rect x="225.45" y="572.00" width="3.75" height="5.00" fill="#00e0ff" fill-opacity="0.75"/><rect x="217.95" y="577.00" width="3.75" height="5.00" fill="#bdff42"/><rect x="225.45" y="577.00" width="3.75" height="5.00" fill="#00e0ff" fill-opacity="0.75"/>
<rect x="285.45" y="527.00" width="3.75" height="5.00" fill="#ffbd00" fill-opacity="0.75"/><rect x="289.20" y="527.00" width="3.75" height="5.00" fill="#ffbd00"/><rect x="277.95" y="532.00" width="3.75" height="5.00" fill="#e5ff1a"/><rect x="281.70" y="537.00" width="3.75" height="5.00" fill="#bdff42"/><rect x="289.20" y="537.00" width="3.75" height="5.00" fill="#bdff42"/><rect x="292.95" y="537.00" width="3.75" height="5.00" fill="#bdff42" fill-opacity="0.75"/><rect x="270.45" y="542.00" width="3.75" height="5.00" fill="#1affe5" fill-opacity="0.75"/><rect x="281.70" y="542.00" width="3.75" height="5.00" fill="#bdff42"/><rect x="285.45" y="542.00" width="3.75" height="5.00" fill="#fff000" fill-opacity="0.75"/><rect x="289.20" y="542.00" width="3.75" height="5.00" fill="#bdff42" fill-opacity="0.75"/><rect x="292.95" y="542.00" width="3.75" height="5.00" fill="#bdff42" fill-opacity="0.75"/><rect x="266.70" y="547.00" width="7.50" height="5.00" fill="#1affe5"/><rect x="277.95" y="547.00" width="3.75" height="5.00" fill="#80ff80" fill-opacity="0.75"/><rect x="285.45" y="547.00" width="3.75" height="5.00" fill="#fff000" fill-opacity="0.75"/><rect x="289.20" y="547.00" width="3.75" height="5.00" fill="#bdff42" fill-opacity="0.75"/><rect x="266.70" y="552.00" width="7.50" height="5.00" fill="#1affe5"/><rect x="285.45" y="552.00" width="3.75" height="5.00" fill="#00e0ff" fill-opacity="0.75"/><rect x="292.95" y="552.00" width="3.75" height="5.00" fill="#e5ff1a"/><rect x="296.70" y="552.00" width="3.75" height="5.00" fill="#fff000" fill-opacity="0.75"/><rect x="281.70" y="557.00" width="7.50" height="5.00" fill="#1affe5"/><rect x="296.70" y="557.00" width="3.75" height="5.00" fill="#fff000"/><rect x="300.45" y="557.00" width="3.75" height="5.00" fill="#bdff42"/><rect x="289.20" y="562.00" width="3.75" height="5.00" fill="#00e0ff"/><rect x="300.45" y="562.00" width="3.75" height="5.00" fill="#42ffbd" fill-opacity="0.75"/><rect x="296.70" y="567.00" width="3.75" height="5.00" fill="#fff000"/><rect x="300.45" y="572.00" width="3.75" height="5.00" fill="#fff000"/><rect x="259.20" y="577.00" width="3.75" height="5.00" fill="#80ff80"/>
<rect x="330.45" y="527.00" width="3.75" height="5.00" fill="#fff000"/><rect x="341.70" y="527.00" width="3.75" height="5.00" fill="#ffbd00"/><rect x="337.95" y="532.00" width="3.75" height="5.00" fill="#fff000" fill-opacity="0.75"/><rect x="330.45" y="537.00" width="3.75" height="5.00" fill="#80ff80" fill-opacity="0.75"/><rect x="341.70" y="537.00" width="3.75" height="5.00" fill="#80ff80" fill-opacity="0.75"/><rect x="345.45" y="537.00" width="3.75" height="5.00" fill="#80ff80" fill-opacity="0.75"/><rect x="349.20" y="537.00" width="7.50" height="5.00" fill="#bdff42"/><rect x="356.70" y="537.00" width="3.75" height="5.00" fill="#ffbd00" fill-opacity="0.75"/><rect x="330.45" y="542.00" width="3.75" height="5.00" fill="#00e0ff" fill-opacity="0.75"/><rect x="341.70" y="542.00" width="3.75" height="5.00" fill="#42ffbd"/><rect x="349.20" y="542.00" width="3.75" height="5.00" fill="#80ff80"/><rect x="352.95" y="542.00" width="3.75" height="5.00" fill="#bdff42" fill-opacity="0.75"/><rect x="360.45" y="542.00" width="3.75" height="5.00" fill="#fff000"/><rect x="334.20" y="547.00" width="3.75" height="5.00" fill="#1affe5"/><rect x="349.20" y="547.00" width="3.75" height="5.00" fill="#80ff80"/><rect x="352.95" y="547.00" width="3.75" height="5.00" fill="#fff000" fill-opacity="0.75"/><rect x="356.70" y="547.00" width="3.75" height="5.00" fill="#80ff80" fill-opacity="0.75"/><rect x="334.20" y="552.00" width="7.50" height="5.00" fill="#80ff80"/><rect x="341.70" y="552.00" width="3.75" height="5.00" fill="#1affe5"/><rect x="345.45" y="552.00" width="3.75" height="5.00" fill="#1affe5" fill-opacity="0.75"/><rect x="352.95" y="552.00" width="3.75" height="5.00" fill="#fff000" fill-opacity="0.75"/><rect x="356.70" y="552.00" width="3.75" height="5.00" fill="#80ff80" fill-opacity="0.75"/><rect x="360.45" y="552.00" width="3.75" height="5.00" fill="#80ff80"/><rect x="330.45" y="557.00" width="3.75" height="5.00" fill="#00e0ff"/><rect x="334.20" y="557.00" width="3.75" height="5.00" fill="#42ffbd"/><rect x="337.95" y="557.00" width="3.75" height="5.00" fill="#42ffbd" fill-opacity="0.75"/><rect x="349.20" y="557.00" width="7.50" height="5.00" fill="#bdff42"/><rect x="360.45" y="557.00" width="3.75" height="5.00" fill="#ff8a00"/><rect x="337.95" y="562.00" width="3.75" height="5.00" fill="#bdff42"/><rect x="341.70" y="562.00" width="3.75" height="5.00" fill="#80ff80"/><rect x="349.20" y="562.00" width="3.75" height="5.00" fill="#1affe5"/><rect x="360.45" y="562.00" width="3.75" height="5.00" fill="#1affe5"/><rect x="345.45" y="572.00" width="3.75" height="5.00" fill="#00e0ff"/>
<rect x="394.20" y="527.00" width="3.75" height="5.00" fill="#fff000" fill-opacity="0.75"/><rect x="401.70" y="527.00" width="3.75" height="5.00" fill="#fff000" fill-opacity="0.75"/><rect x="394.20" y="532.00" width="3.75" height="5.00" fill="#fff000" fill-opacity="0.75"/><rect x="397.95" y="532.00" width="3.75" height="5.00" fill="#bdff42" fill-opacity="0.75"/><rect x="412.95" y="532.00" width="3.75" height="5.00" fill="#fff000"/><rect x="386.70" y="537.00" width="3.75" height="5.00" fill="#bdff42"/><rect x="390.45" y="537.00" width="3.75" height="5.00" fill="#e5ff1a"/><rect x="394.20" y="537.00" width="3.75" height="5.00" fill="#bdff42"/><rect x="397.95" y="537.00" width="3.75" height="5.00" fill="#fff000"/><rect x="401.70" y="537.00" width="3.75" height="5.00" fill="#bdff42"/><rect x="405.45" y="537.00" width="3.75" height="5.00" fill="#e5ff1a"/><rect x="412.95" y="537.00" width="3.75" height="5.00" fill="#ffbd00"/><rect x="416.70" y="537.00" width="3.75" height="5.00" fill="#fff000"/><rect x="382.95" y="542.00" width="3.75" height="5.00" fill="#80ff80"/><rect x="401.70" y="542.00" width="3.75" height="5.00" fill="#fff000"/><rect x="409.20" y="542.00" width="7.50" height="5.00" fill="#ffbd00"/><rect x="416.70" y="542.00" width="3.75" height="5.00" fill="#e5ff1a"/><rect x="420.45" y="542.00" width="3.75" height="5.00" fill="#ff8a00"/><rect x="390.45" y="547.00" width="3.75" height="5.00" fill="#00e0ff"/><rect x="394.20" y="547.00" width="3.75" height="5.00" fill="#1affe5"/><rect x="397.95" y="547.00" width="3.75" height="5.00" fill="#80ff80" fill-opacity="0.75"/><rect x="401.70" y="547.00" width="3.75" height="5.00" fill="#80ff80" fill-opacity="0.75"/><rect x="405.45" y="547.00" width="3.75" height="5.00" fill="#80ff80" fill-opacity="0.75"/><rect x="409.20" y="547.00" width="3.75" height="5.00" fill="#fff000"/><rect x="412.95" y="547.00" width="3.75" height="5.00" fill="#e5ff1a"/><rect x="416.70" y="547.00" width="3.75" height="5.00" fill="#fff000"/><rect x="420.45" y="547.00" width="3.75" height="5.00" fill="#e5ff1a"/><rect x="382.95" y="552.00" width="3.75" height="5.00" fill="#80ff80"/><rect x="390.45" y="552.00" width="3.75" height="5.00" fill="#80ff80" fill-opacity="0.75"/><rect x="409.20" y="552.00" width="3.75" height="5.00" fill="#fff000"/><rect x="412.95" y="552.00" width="7.50" height="5.00" fill="#e5ff1a"/><rect x="420.45" y="552.00" width="3.75" height="5.00" fill="#fff000"/><rect x="397.95" y="557.00" width="7.50" height="5.00" fill="#bdff42"/><rect x="405.45" y="557.00" width="3.75" height="5.00" fill="#1affe5"/><rect x="409.20" y="557.00" width="3.75" height="5.00" fill="#bdff42"/><rect x="412.95" y="557.00" width="3.75" height="5.00" fill="#80ff80"/><rect x="416.70" y="557.00" width="3.75" height="5.00" fill="#fff000"/><rect x="420.45" y="557.00" width="3.75" height="5.00" fill="#e5ff1a"/><rect x="375.45" y="562.00" width="3.75" height="5.00" fill="#00e0ff"/><rect x="397.95" y="562.00" width="3.75" height="5.00" fill="#1affe5"/><rect x="401.70" y="562.00" width="3.75" height="5.00" fill="#bdff42"/><rect x="416.70" y="562.00" width="3.75" height="5.00" fill="#e5ff1a"/><rect x="420.45" y="562.00" width="3.75" height="5.00" fill="#1affe5"/><rect x="379.20" y="567.00" width="3.75" height="5.00" fill="#1affe5"/><rect x="401.70" y="567.00" width="3.75" height="5.00" fill="#80ff80" fill-opacity="0.75"/><rect x="409.20" y="567.00" width="3.75" height="5.00" fill="#80ff80" fill-opacity="0.75"/><rect x="416.70" y="567.00" width="3.75" height="5.00" fill="#bdff42" fill-opacity="0.75"/><rect x="390.45" y="577.00" width="3.75" height="5.00" fill="#1affe5"/>
<rect x="472.95" y="532.00" width="3.75" height="5.00" fill="#ff8a00"/><rect x="465.45" y="537.00" width="3.75" height="5.00" fill="#bdff42"/><rect x="465.45" y="542.00" width="3.75" height="5.00" fill="#bdff42"/><rect x="472.95" y="542.00" width="3.75" height="5.00" fill="#80ff80"/><rect x="461.70" y="547.00" width="3.75" height="5.00" fill="#80ff80" fill-opacity="0.75"/><rect x="465.45" y="547.00" width="3.75" height="5.00" fill="#bdff42" fill-opacity="0.75"/><rect x="454.20" y="552.00" width="3.75" height="5.00" fill="#e5ff1a"/><rect x="472.95" y="552.00" width="3.75" height="5.00" fill="#42ffbd"/><rect x="476.70" y="552.00" width="3.75" height="5.00" fill="#bdff42"/><rect x="480.45" y="552.00" width="3.75" height="5.00" fill="#e5ff1a"/><rect x="469.20" y="557.00" width="7.50" height="5.00" fill="#42ffbd"/><rect x="476.70" y="557.00" width="3.75" height="5.00" fill="#80ff80"/><rect x="435.45" y="562.00" width="3.75" height="5.00" fill="#00e0ff"/><rect x="454.20" y="562.00" width="3.75" height="5.00" fill="#00e0ff" fill-opacity="0.75"/><rect x="472.95" y="562.00" width="3.75" height="5.00" fill="#42ffbd"/><rect x="431.70" y="567.00" width="3.75" height="5.00" fill="#80ff80" fill-opacity="0.75"/><rect x="480.45" y="567.00" width="3.75" height="5.00" fill="#e5ff1a"/><rect x="465.45" y="572.00" width="3.75" height="5.00" fill="#00e0ff"/>
<rect x="499.20" y="532.00" width="3.75" height="5.00" fill="#fff000"/><rect x="525.45" y="532.00" width="3.75" height="5.00" fill="#e5ff1a"/><rect x="529.20" y="532.00" width="3.75" height="5.00" fill="#ffbd00"/><rect x="532.95" y="537.00" width="3.75" height="5.00" fill="#e5ff1a"/><rect x="510.75" y="542.40" width="3.05" height="4.10" fill="#1affe5"/><rect x="529.20" y="552.00" width="3.75" height="5.00" fill="#42ffbd"/><rect x="532.95" y="552.00" width="3.75" height="5.00" fill="#bdff42"/><rect x="529.20" y="557.00" width="3.75" height="5.00" fill="#42ffbd"/>
<rect x="577.95" y="522.00" width="3.75" height="5.00" fill="#ff8a00"/><rect x="559.20" y="532.00" width="3.75" height="5.00" fill="#fff000" fill-opacity="0.75"/><rect x="589.20" y="537.00" width="3.75" height="5.00" fill="#bdff42" fill-opacity="0.75"/><rect x="596.70" y="542.00" width="3.75" height="5.00" fill="#bdff42"/><rect x="600.45" y="542.00" width="3.75" height="5.00" fill="#fff000"/><rect x="592.95" y="547.00" width="3.75" height="5.00" fill="#42ffbd"/><rect x="581.70" y="552.00" width="3.75" height="5.00" fill="#42ffbd"/><rect x="592.95" y="552.00" width="3.75" height="5.00" fill="#80ff80"/><rect x="596.70" y="552.00" width="3.75" height="5.00" fill="#bdff42"/><rect x="600.45" y="552.00" width="3.75" height="5.00" fill="#bdff42" fill-opacity="0.75"/><rect x="566.70" y="557.00" width="3.75" height="5.00" fill="#00e0ff"/><rect x="574.20" y="557.00" width="3.75" height="5.00" fill="#1affe5"/><rect x="589.20" y="557.00" width="3.75" height="5.00" fill="#42ffbd"/><rect x="596.70" y="557.00" width="3.75" height="5.00" fill="#80ff80" fill-opacity="0.75"/><rect x="570.45" y="562.00" width="3.75" height="5.00" fill="#80ff80"/><rect x="589.20" y="562.00" width="3.75" height="5.00" fill="#42ffbd"/><rect x="596.70" y="562.00" width="3.75" height="5.00" fill="#80ff80" fill-opacity="0.75"/><rect x="589.20" y="567.00" width="3.75" height="5.00" fill="#42ffbd"/><rect x="589.20" y="572.00" width="3.75" height="5.00" fill="#80ff80"/>
<rect x="50.50" y="142.00" width="2.00" height="2.50" fill="#80ff80"/><rect x="50.00" y="145.50" width="3.50" height="1.50" fill="#00e0ff"/><rect x="585.00" y="218.00" width="3.00" height="4.00" fill="#42ffbd"/><rect x="598.00" y="242.00" width="1.20" height="5.00" fill="#00e0ff"/><rect x="597.00" y="247.00" width="4.00" height="1.00" fill="#001aff"/><rect x="398.00" y="327.00" width="1.00" height="5.00" fill="#00e0ff"/><rect x="398.00" y="327.00" width="4.00" height="1.00" fill="#00e0ff"/><rect x="401.00" y="329.00" width="1.00" height="1.50" fill="#00e0ff"/><rect x="462.00" y="301.50" width="2.00" height="5.00" fill="#1affe5"/><rect x="530.00" y="306.00" width="3.50" height="1.20" fill="#bdff42"/><rect x="531.20" y="307.00" width="1.20" height="3.00" fill="#bdff42"/><rect x="529.50" y="310.50" width="4.00" height="1.20" fill="#bdff42"/><rect x="230.50" y="377.00" width="1.50" height="5.00" fill="#80ff80"/><rect x="218.50" y="401.00" width="1.20" height="5.00" fill="#00e0ff"/><rect x="219.50" y="406.00" width="2.00" height="1.00" fill="#001aff"/><rect x="324.00" y="361.00" width="1.50" height="5.00" fill="#ff8a00"/><rect x="362.50" y="387.00" width="1.50" height="5.00" fill="#80ff80"/><rect x="398.00" y="407.00" width="1.00" height="5.00" fill="#00e0ff"/><rect x="398.00" y="407.00" width="4.00" height="1.00" fill="#00e0ff"/><rect x="402.00" y="412.00" width="3.00" height="3.00" fill="#00e0ff"/><rect x="530.50" y="386.50" width="2.50" height="2.00" fill="#00e0ff"/><rect x="505.00" y="398.00" width="2.00" height="2.00" fill="#00e0ff"/><rect x="398.00" y="487.00" width="1.00" height="5.00" fill="#00e0ff"/><rect x="398.00" y="487.00" width="4.00" height="1.00" fill="#00e0ff"/><rect x="401.00" y="489.00" width="1.00" height="1.50" fill="#00e0ff"/><rect x="523.00" y="546.50" width="3.50" height="1.00" fill="#42ffbd"/><rect x="523.00" y="546.50" width="1.00" height="3.00" fill="#42ffbd"/><rect x="523.00" y="549.00" width="3.50" height="1.00" fill="#42ffbd"/><rect x="525.50" y="549.00" width="1.00" height="3.00" fill="#42ffbd"/><rect x="105.50" y="472.00" width="1.30" height="4.00" fill="#001aff"/>
</g>
<g stroke="#000" stroke-width="1" shape-rendering="auto">
<line x1="109.4" y1="467.6" x2="116.0" y2="462.5"/><line x1="116.0" y1="462.5" x2="124.0" y2="460.3"/><line x1="112.7" y1="487.0" x2="121.2" y2="484.0"/><line x1="166.0" y1="466.5" x2="184.0" y2="466.5"/><line x1="173.0" y1="486.7" x2="184.0" y2="486.7"/><line x1="229.4" y1="467.6" x2="244.0" y2="479.4"/><line x1="406.1" y1="472.8" x2="424.0" y2="464.3"/><line x1="48.0" y1="560.0" x2="61.0" y2="549.0"/><line x1="103.5" y1="549.5" x2="121.2" y2="540.3"/><line x1="150.3" y1="566.7" x2="184.0" y2="566.7"/><line x1="163.5" y1="531.0" x2="163.5" y2="551.0"/><line x1="164.0" y1="546.3" x2="184.0" y2="546.3"/><line x1="210.3" y1="540.3" x2="244.0" y2="558.1"/><line x1="346.1" y1="556.8" x2="359.3" y2="538.4"/><line x1="390.3" y1="556.1" x2="424.0" y2="543.0"/>
</g>
<text x="154.0" y="472.0" font-size="9" style="fill:#000;stroke:#000;stroke-width:0.5px">50</text>
<text x="223.5" y="468.0" font-size="9" style="fill:#000;stroke:#000;stroke-width:0.5px">20</text>
<text x="46.0" y="547.5" font-size="9" style="fill:#000;stroke:#000;stroke-width:0.5px">40</text>
<text x="97.5" y="557.2" font-size="9" style="fill:#000;stroke:#000;stroke-width:0.5px">50</text>
<text x="219.0" y="548.0" font-size="9" style="fill:#000;stroke:#000;stroke-width:0.5px">120</text>
<text x="284.0" y="549.0" font-size="9" style="fill:#000;stroke:#000;stroke-width:0.5px">50</text>
<text x="397.0" y="552.0" font-size="9" style="fill:#000;stroke:#000;stroke-width:0.5px">70</text>
<g fill="#fff">
<rect x="4" y="36" width="609" height="1"/><rect x="4" y="116" width="609" height="1"/><rect x="4" y="196" width="609" height="1"/><rect x="4" y="276" width="609" height="1"/><rect x="4" y="356" width="609" height="1"/><rect x="4" y="436" width="609" height="1"/><rect x="4" y="516" width="609" height="1"/><rect x="4" y="596" width="609" height="1"/><rect x="4" y="36" width="1" height="561"/><rect x="64" y="36" width="1" height="561"/><rect x="124" y="36" width="1" height="561"/><rect x="184" y="36" width="1" height="561"/><rect x="244" y="36" width="1" height="561"/><rect x="304" y="36" width="1" height="561"/><rect x="364" y="36" width="1" height="561"/><rect x="424" y="36" width="1" height="561"/><rect x="484" y="36" width="1" height="561"/><rect x="544" y="36" width="1" height="561"/><rect x="604" y="36" width="1" height="561"/><rect x="612" y="36" width="1" height="561"/>
</g>
<rect x="605" y="37" width="7" height="79" fill="url(#jet)"/><rect x="605" y="117" width="7" height="79" fill="url(#jet)"/><rect x="605" y="197" width="7" height="79" fill="url(#jet)"/><rect x="605" y="277" width="7" height="79" fill="url(#jet)"/><rect x="605" y="357" width="7" height="79" fill="url(#jet)"/><rect x="605" y="437" width="7" height="79" fill="url(#jet)"/><rect x="605" y="517" width="7" height="79" fill="url(#jet)"/><rect x="605" y="76" width="1" height="1" fill="#fff"/><rect x="611" y="76" width="1" height="1" fill="#fff"/><rect x="605" y="156" width="1" height="1" fill="#fff"/><rect x="611" y="156" width="1" height="1" fill="#fff"/><rect x="605" y="236" width="1" height="1" fill="#fff"/><rect x="611" y="236" width="1" height="1" fill="#fff"/><rect x="605" y="316" width="1" height="1" fill="#fff"/><rect x="611" y="316" width="1" height="1" fill="#fff"/><rect x="605" y="396" width="1" height="1" fill="#fff"/><rect x="611" y="396" width="1" height="1" fill="#fff"/><rect x="605" y="476" width="1" height="1" fill="#fff"/><rect x="611" y="476" width="1" height="1" fill="#fff"/><rect x="605" y="556" width="1" height="1" fill="#fff"/><rect x="611" y="556" width="1" height="1" fill="#fff"/>
<text x="152" y="15" font-size="13.8" text-anchor="start" xml:space="preserve">Cassini/MIMI Inca mTOF  2004-017   Stare   Ions Only</text>
<text x="136" y="32" font-size="13.8" text-anchor="start" xml:space="preserve">R</text>
<text x="180.5" y="32" font-size="13.8" text-anchor="start" xml:space="preserve">1328.06 Lat -16.33 LT 0728 L</text>
<text x="402.5" y="32" font-size="13.9" text-anchor="start" xml:space="preserve">62.11  MIMI/APL</text>
<text x="145.5" y="41" font-size="13" text-anchor="start" xml:space="preserve" font-weight="bold" style="stroke-width:0.2px">satur</text>
<text x="360" y="41" font-size="13" text-anchor="start" xml:space="preserve" font-weight="bold" style="stroke-width:0.2px">saturn</text>
<text x="712" y="15.5" font-size="12" text-anchor="start" xml:space="preserve">Log Cnts</text>
<text x="697.5" y="29" font-size="11.7" xml:space="preserve">(cm<tspan font-size="7" dy="-5">2</tspan><tspan dy="5">-sr-s-keV)</tspan></text>
<rect x="773" y="21" width="1.3" height="4" fill="#fff"/>
<text x="617" y="46" font-size="10.7" text-anchor="start" xml:space="preserve">-1.201</text>
<text x="617" y="81.8" font-size="10.7" text-anchor="start" xml:space="preserve">-1.792</text>
<text x="617" y="116.6" font-size="10.7" text-anchor="start" xml:space="preserve">-2.384</text>
<text x="661" y="75.9" font-size="11.7" text-anchor="start" xml:space="preserve">Oxygen</text>
<text x="661" y="90.2" font-size="11.3" text-anchor="start" xml:space="preserve">331-589 keV</text>
<text x="617" y="126" font-size="10.7" text-anchor="start" xml:space="preserve">-0.9278</text>
<text x="620.5" y="161.8" font-size="10.7" text-anchor="start" xml:space="preserve">1.656</text>
<text x="617" y="196.6" font-size="10.7" text-anchor="start" xml:space="preserve">-2.384</text>
<text x="661" y="155.9" font-size="11.7" text-anchor="start" xml:space="preserve">Oxygen</text>
<text x="661" y="170.2" font-size="11.3" text-anchor="start" xml:space="preserve">231-332 keV</text>
<text x="617" y="206" font-size="10.7" text-anchor="start" xml:space="preserve">-0.4784</text>
<text x="620.5" y="241.8" font-size="10.7" text-anchor="start" xml:space="preserve">1.431</text>
<text x="617" y="276.6" font-size="10.7" text-anchor="start" xml:space="preserve">-2.384</text>
<text x="661" y="235.9" font-size="11.7" text-anchor="start" xml:space="preserve">Oxygen</text>
<text x="661" y="250.2" font-size="11.3" text-anchor="start" xml:space="preserve">168-231 keV</text>
<text x="617" y="286" font-size="10.7" text-anchor="start" xml:space="preserve">-0.1398</text>
<text x="620.5" y="321.8" font-size="10.7" text-anchor="start" xml:space="preserve">1.262</text>
<text x="617" y="356.6" font-size="10.7" text-anchor="start" xml:space="preserve">-2.384</text>
<text x="661" y="315.9" font-size="11.7" text-anchor="start" xml:space="preserve">Oxygen</text>
<text x="661" y="330.2" font-size="11.3" text-anchor="start" xml:space="preserve">129-169 keV</text>
<text x="617" y="366" font-size="10.7" text-anchor="start" xml:space="preserve">0.03900</text>
<text x="620.5" y="401.8" font-size="10.7" text-anchor="start" xml:space="preserve">1.172</text>
<text x="617" y="436.6" font-size="10.7" text-anchor="start" xml:space="preserve">-2.384</text>
<text x="661" y="395.9" font-size="11.7" text-anchor="start" xml:space="preserve">Oxygen</text>
<text x="661" y="410.2" font-size="11.3" text-anchor="start" xml:space="preserve">89-129 keV</text>
<text x="617" y="446" font-size="10.7" text-anchor="start" xml:space="preserve">0.7595</text>
<text x="617" y="481.8" font-size="10.7" text-anchor="start" xml:space="preserve">-0.8121</text>
<text x="617" y="516.6" font-size="10.7" text-anchor="start" xml:space="preserve">-2.384</text>
<text x="661" y="475.9" font-size="11.7" text-anchor="start" xml:space="preserve">Oxygen</text>
<text x="661" y="490.2" font-size="11.3" text-anchor="start" xml:space="preserve">68-90 keV</text>
<text x="617" y="526" font-size="10.7" text-anchor="start" xml:space="preserve">1.299</text>
<text x="617" y="561.8" font-size="10.7" text-anchor="start" xml:space="preserve">-0.5423</text>
<text x="620.5" y="596.6" font-size="10.7" text-anchor="start" xml:space="preserve">2.384</text>
<text x="661" y="555.9" font-size="11.7" text-anchor="start" xml:space="preserve">Oxygen</text>
<text x="661" y="570.2" font-size="11.3" text-anchor="start" xml:space="preserve">46-68 keV</text>
<text x="701" y="582.6" font-size="10.5" text-anchor="start" xml:space="preserve">B-field Particle Flow</text>
<text x="10" y="608.5" font-size="10.6" text-anchor="start" xml:space="preserve">017T02:40</text>
<text x="81" y="608.5" font-size="10.6" text-anchor="start" xml:space="preserve">02:48</text>
<text x="141" y="608.5" font-size="10.6" text-anchor="start" xml:space="preserve">02:56</text>
<text x="201" y="608.5" font-size="10.6" text-anchor="start" xml:space="preserve">03:04</text>
<text x="261" y="608.5" font-size="10.6" text-anchor="start" xml:space="preserve">03:12</text>
<text x="321" y="608.5" font-size="10.6" text-anchor="start" xml:space="preserve">03:20</text>
<text x="381" y="608.5" font-size="10.6" text-anchor="start" xml:space="preserve">03:28</text>
<text x="441" y="608.5" font-size="10.6" text-anchor="start" xml:space="preserve">03:36</text>
<text x="501" y="608.5" font-size="10.6" text-anchor="start" xml:space="preserve">03:44</text>
<text x="561" y="608.5" font-size="10.6" text-anchor="start" xml:space="preserve">03:52</text>
</svg>
</body></html>
